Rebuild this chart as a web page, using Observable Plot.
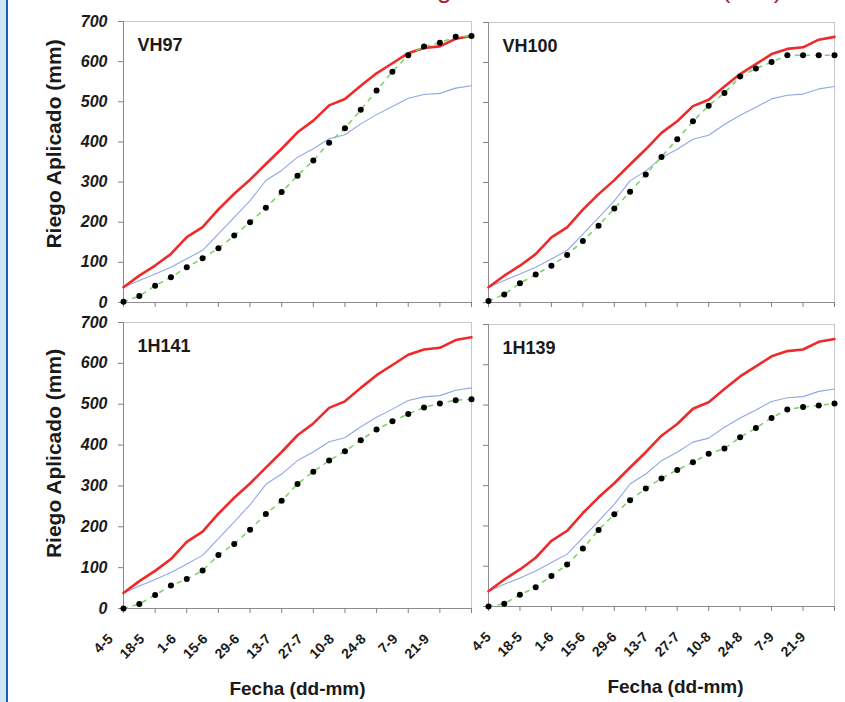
<!DOCTYPE html>
<html>
<head>
<meta charset="utf-8">
<script src="https://cdn.jsdelivr.net/npm/d3@7"></script>
<script src="https://cdn.jsdelivr.net/npm/@observablehq/plot@0.6"></script>
<style>
  html, body { margin: 0; padding: 0; background: #fff; }
  body { width: 845px; height: 702px; overflow: hidden; position: relative; font-family: "Liberation Sans", Arial, sans-serif; }
  #franja { position: absolute; left: 0; top: 0; width: 6px; height: 702px; background: #cfe4f5; }
  #linea { position: absolute; left: 6px; top: 0; width: 2px; height: 702px; background: #1f5fae; }
  #titulo { position: absolute; left: 398px; top: -24px; font-size: 26px; line-height: 1; color: #a3273a; white-space: nowrap; }
  .panel { position: absolute; }
  .panel svg { display: block; }
</style>
</head>
<body>
<div id="franja"></div>
<div id="linea"></div>
<div id="titulo">Riego neto total acumulado (mm)</div>
<div id="tl" class="panel"></div>
<div id="tr" class="panel"></div>
<div id="bl" class="panel"></div>
<div id="br" class="panel"></div>
<script>
// Weekly dates (dd-mm)
const fechas = ["4-5","11-5","18-5","25-5","1-6","8-6","15-6","22-6","29-6","6-7","13-7","20-7","27-7","3-8","10-8","17-8","24-8","31-8","7-9","14-9","21-9","28-9","5-10"];
// Axis tick labels (every 14 days); last tick (5-10) has no label
const tickFechas = ["4-5","18-5","1-6","15-6","29-6","13-7","27-7","10-8","24-8","7-9","21-9","5-10"];
const tickEtiquetas = ["4-5","18-5","1-6","15-6","29-6","13-7","27-7","10-8","24-8","7-9","21-9",""];
const ticksY = [0, 100, 200, 300, 400, 500, 600, 700];

// Reference curves (same in every panel)
const serieRoja = [38, 67, 92, 121, 163, 188, 232, 271, 306, 345, 383, 424, 453, 491, 507, 540, 571, 596, 621, 634, 638, 657, 664];
const serieAzul = [38, 55, 71, 88, 109, 130, 171, 212, 254, 304, 329, 362, 383, 408, 418, 445, 468, 488, 509, 518, 521, 534, 540];

// Applied irrigation per variety (dots)
const vh97  = [2, 16, 42, 63, 88, 110, 135, 167, 200, 236, 275, 316, 354, 398, 434, 480, 528, 575, 616, 638, 647, 662, 664];
const vh100 = [4, 20, 48, 70, 92, 119, 154, 192, 235, 277, 320, 364, 408, 453, 492, 524, 565, 585, 601, 618, 618, 618, 618];
const h141  = [0, 11, 33, 56, 72, 93, 131, 158, 193, 231, 264, 305, 335, 362, 385, 412, 438, 458, 476, 492, 502, 510, 512];
const h139  = [0, 7, 29, 48, 76, 104, 144, 190, 229, 264, 293, 318, 339, 358, 379, 392, 420, 443, 468, 489, 495, 499, 504];

const AÑO = 2005;
const parseFecha = s => { const [d, m] = s.split("-").map(Number); return new Date(Date.UTC(AÑO, m - 1, d)); };
const fechasD = fechas.map(parseFecha);
const ticksX = tickFechas.map(parseFecha);
const etiquetaDe = new Map(ticksX.map((d, i) => [+d, tickEtiquetas[i]]));
const serie = vals => vals.map((v, i) => ({fecha: fechasD[i], v}));

const FONT = "'Liberation Sans', Arial, Helvetica, sans-serif";

function panel(cfg) {
  const marks = [
    Plot.frame({stroke: "#c8c8c8"}),
    Plot.ruleY([0], {stroke: "#8c8c8c"}),
    Plot.ruleX([fechasD[0]], {stroke: "#8c8c8c"}),
    Plot.axisY(ticksY, {tickSize: 5, stroke: "#808080", fill: cfg.showY ? "#1a1a1a" : "none", tickPadding: 11,
      fontSize: 16, fontWeight: "bold", fontStyle: "italic", label: null}),
    Plot.axisX(ticksX, {tickSize: 5, stroke: "#808080", fill: "none", label: null}),
    Plot.line(serie(serieAzul), {x: "fecha", y: "v", stroke: "#93a6e6", strokeWidth: 1.1}),
    Plot.line(serie(serieRoja), {x: "fecha", y: "v", stroke: "#ee2a2a", strokeWidth: 2.6}),
    Plot.line(serie(cfg.dots), {x: "fecha", y: "v", stroke: "#7fd36a", strokeWidth: 1.6, strokeDasharray: "4,6"}),
    Plot.dot(serie(cfg.dots), {x: "fecha", y: "v", r: 3, fill: "#000", stroke: "none"}),
    Plot.text([cfg.nombre], {text: d => d, frameAnchor: "top-left", dx: 14, dy: 17, fontSize: 18, fontWeight: "bold", fill: "#1a1a1a"})
  ];
  if (cfg.showX) {
    marks.push(Plot.axisX(ticksX, {tickSize: 0, tickPadding: 0, tickRotate: -45, dx: cfg.tickDx, dy: 28,
      tickFormat: d => etiquetaDe.get(+d), fontSize: 14, fontWeight: "bold", fill: "#1a1a1a", label: null}));
    marks.push(Plot.text(["Fecha (dd-mm)"], {text: d => d, frameAnchor: "bottom", dx: cfg.xLabelDx, dy: 80,
      fontSize: 19, fontWeight: "bold", fill: "#1a1a1a", textAnchor: "middle", lineAnchor: "middle"}));
  }
  if (cfg.showY) {
    marks.push(Plot.text(["Riego Aplicado (mm)"], {text: d => d, frameAnchor: "left", rotate: -90, dx: -69, dy: cfg.yLabelDy,
      fontSize: 21, fontWeight: "bold", fill: "#1a1a1a", textAnchor: "middle", lineAnchor: "middle"}));
  }
  const chart = Plot.plot({
    width: cfg.width, height: cfg.height,
    marginLeft: cfg.ml, marginTop: cfg.mt, marginRight: cfg.mr, marginBottom: cfg.mb,
    x: {type: "utc", domain: [fechasD[0], fechasD[fechasD.length - 1]], label: null},
    y: {domain: [0, 700], label: null},
    style: {fontFamily: FONT, overflow: "visible", background: "transparent", color: "#1a1a1a"},
    marks
  });
  const el = document.getElementById(cfg.id);
  el.style.left = cfg.left + "px";
  el.style.top = cfg.top + "px";
  el.style.width = cfg.width + "px";
  el.style.height = cfg.height + "px";
  el.appendChild(chart);
}

panel({id: "tl", nombre: "VH97", dots: vh97, left: 0, top: 0, width: 480, height: 318, ml: 123, mt: 21, mr: 9, mb: 16, showY: true, showX: false, yLabelDy: -18});
panel({id: "tr", nombre: "VH100", dots: vh100, left: 480, top: 0, width: 365, height: 318, ml: 8, mt: 22, mr: 11, mb: 16, showY: false, showX: false});
panel({id: "bl", nombre: "1H141", dots: h141, left: 0, top: 318, width: 480, height: 384, ml: 123, mt: 4, mr: 9, mb: 94, showY: true, showX: true, yLabelDy: -12, xLabelDx: 0, tickDx: -13});
panel({id: "br", nombre: "1H139", dots: h139, left: 480, top: 318, width: 365, height: 384, ml: 8, mt: 6, mr: 11, mb: 96, showY: false, showX: true, xLabelDx: 14, tickDx: 0});
</script>
</body>
</html>
